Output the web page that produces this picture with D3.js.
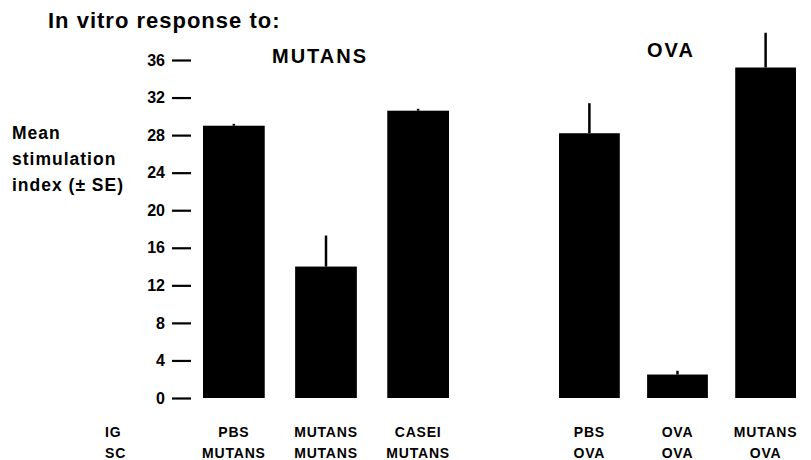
<!DOCTYPE html>
<html>
<head>
<meta charset="utf-8">
<script src="https://cdn.jsdelivr.net/npm/d3@7"></script>
<style>
  html, body { margin: 0; padding: 0; background: #fff; }
  svg { display: block; font-family: "Liberation Sans", Arial, sans-serif; font-weight: bold; }
</style>
</head>
<body>
<svg id="chart" width="811" height="460"></svg>
<script>
// ---- data ----
const groupTitles = ["MUTANS", "OVA"];
const barGroup   = [0, 0, 0, 1, 1, 1];
const igLabels   = ["PBS", "MUTANS", "CASEI", "PBS", "OVA", "MUTANS"];
const scLabels   = ["MUTANS", "MUTANS", "MUTANS", "OVA", "OVA", "OVA"];
const means      = [29.0, 14.0, 30.6, 28.2, 2.5, 35.2];
const errors     = [0.2, 3.3, 0.2, 3.2, 0.4, 3.7];
const yTicks     = [0, 4, 8, 12, 16, 20, 24, 28, 32, 36];
const yLabelLines = ["Mean", "stimulation", "index (\u00b1 SE)"];
const rowNames   = ["IG", "SC"];

const svg = d3.select("#chart");

const y = d3.scaleLinear().domain([0, 36]).range([398, 60]);

const bands = [
  d3.scaleBand().domain([0, 1, 2]).range([203, 449]).paddingInner(0.33).paddingOuter(0),
  d3.scaleBand().domain([3, 4, 5]).range([559, 796]).paddingInner(0.31).paddingOuter(0)
];
const xLeft = i => bands[barGroup[i]](i);
const bw = i => bands[barGroup[i]].bandwidth();
const xMid = i => xLeft(i) + bw(i) / 2;

const idx = d3.range(means.length);

// title
svg.append("text")
  .attr("x", 48).attr("y", 28)
  .attr("font-size", 22).attr("letter-spacing", 1)
  .text("In vitro response to:");

// group titles
const titlePos = [{x: 320, y: 63}, {x: 671, y: 57}];
svg.selectAll("text.gtitle").data(groupTitles).join("text")
  .attr("class", "gtitle")
  .attr("x", (d, i) => titlePos[i].x).attr("y", (d, i) => titlePos[i].y)
  .attr("text-anchor", "middle")
  .attr("font-size", 20).attr("letter-spacing", 2)
  .text(d => d);

// y axis label
svg.append("text")
  .attr("font-size", 17.5).attr("letter-spacing", 1)
  .selectAll("tspan").data(yLabelLines).join("tspan")
  .attr("x", 12).attr("y", (d, i) => 139 + i * 26)
  .text(d => d);

// y axis
const yAxis = d3.axisLeft(y).tickValues(yTicks).tickSize(19).tickPadding(7);
const ag = svg.append("g").attr("transform", "translate(191,0)").call(yAxis);
ag.select(".domain").remove();
ag.selectAll(".tick line").attr("stroke", "#000").attr("stroke-width", 2.2);
ag.selectAll(".tick text")
  .attr("font-size", 16).attr("font-weight", "bold")
  .attr("font-family", "'Liberation Sans', Arial, sans-serif")
  .attr("fill", "#000");

// bars
svg.selectAll("rect.bar").data(idx).join("rect")
  .attr("class", "bar")
  .attr("x", i => xLeft(i))
  .attr("width", i => bw(i))
  .attr("y", i => y(means[i]))
  .attr("height", i => y(0) - y(means[i]))
  .attr("fill", "#000");

// error bars
svg.selectAll("line.err").data(idx).join("line")
  .attr("class", "err")
  .attr("x1", i => xMid(i)).attr("x2", i => xMid(i))
  .attr("y1", i => y(means[i])).attr("y2", i => y(means[i] + errors[i]))
  .attr("stroke", "#000").attr("stroke-width", 2.5);

// category labels
const rowY = [437, 458];
svg.selectAll("text.rowname").data(rowNames).join("text")
  .attr("class", "rowname")
  .attr("x", 105).attr("y", (d, i) => rowY[i])
  .attr("font-size", 14).attr("letter-spacing", 0.8)
  .text(d => d);

svg.selectAll("text.ig").data(idx).join("text")
  .attr("class", "ig")
  .attr("x", i => xMid(i)).attr("y", rowY[0])
  .attr("text-anchor", "middle")
  .attr("font-size", 14).attr("letter-spacing", 0.8)
  .text(i => igLabels[i]);

svg.selectAll("text.sc").data(idx).join("text")
  .attr("class", "sc")
  .attr("x", i => xMid(i)).attr("y", rowY[1])
  .attr("text-anchor", "middle")
  .attr("font-size", 14).attr("letter-spacing", 0.8)
  .text(i => scLabels[i]);
</script>
</body>
</html>
